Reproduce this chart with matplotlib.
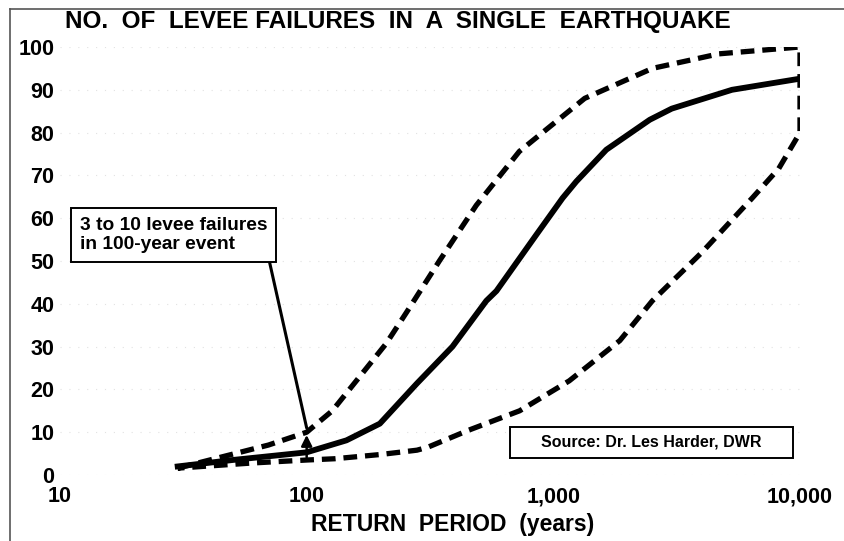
import numpy as np
import matplotlib
matplotlib.use("Agg")
import matplotlib.pyplot as plt
from matplotlib.lines import Line2D
from matplotlib.patches import Rectangle

# return period (years) and number of levee failures
mid_x = [30, 50, 100, 145, 198, 280, 390, 535, 588, 850, 1090, 1240, 1640, 2460, 3020, 5300, 10000]
mid_y = [2.0, 3.5, 5.3, 8.1, 12.0, 21.4, 30.0, 40.7, 43.0, 56.0, 64.7, 68.6, 76.0, 83.0, 85.6, 90.0, 92.6]

upper_x = [30, 70, 100, 127, 175, 210, 254, 345, 487, 728, 1340, 2520, 4690, 10000]
upper_y = [1.6, 7.0, 10.0, 15.0, 25.0, 30.7, 38.0, 50.0, 63.0, 75.6, 88.0, 95.0, 98.4, 100.0]

lower_x = [30, 60, 100, 130, 200, 280, 310, 455, 730, 1160, 1860, 2520, 4000, 6400, 8200, 10000]
lower_y = [1.6, 2.8, 3.5, 3.8, 4.8, 5.8, 6.5, 10.5, 15.0, 22.0, 31.4, 40.7, 52.0, 64.7, 71.6, 80.0]

xticks = [10, 100, 1000, 10000]
xtick_labels = ["10", "100", "1,000", "10,000"]
yticks = list(range(0, 101, 10))

plt.rcParams['font.family'] = ['Liberation Sans', 'DejaVu Sans']
plt.rcParams['font.weight'] = 'bold'

fig = plt.figure(figsize=(8.45, 5.41), dpi=100)
ax = fig.add_axes([60/845, 1-475/541, 740/845, 428/541])

# envelope: upper curve out to 10,000 then back along the lower one
env_x = upper_x + lower_x[::-1]
env_y = upper_y + lower_y[::-1]
ax.plot(env_x, env_y, color='black', lw=3.8, dashes=(2.6, 1.5), solid_capstyle='butt')
ax.plot(mid_x, mid_y, color='black', lw=4.2)

ax.set_xscale('log')
ax.set_xlim(10, 10000)
ax.set_ylim(0, 100)
ax.set_xticks(xticks)
ax.set_xticklabels(xtick_labels)
ax.set_yticks(yticks)
ax.minorticks_off()
ax.tick_params(length=0)
ax.tick_params(axis='y', pad=4, labelsize=15.5)
ax.tick_params(axis='x', pad=8, labelsize=15.5)
for lbl in ax.get_xticklabels() + ax.get_yticklabels():
    lbl.set_fontweight('bold')
ax.yaxis.grid(True, color='#e2e2e2', linestyle=(0, (1, 7)), lw=0.8)
for s in ax.spines.values():
    s.set_visible(False)

ax.set_xlabel('RETURN  PERIOD  (years)', fontsize=16.5, fontweight='bold')
ax.xaxis.label.set_va('center')
ax.xaxis.set_label_coords((453-60)/740, -(525-475)/428)
fig.text(398/845, 1-21.5/541, 'NO.  OF  LEVEE FAILURES  IN  A  SINGLE  EARTHQUAKE',
         ha='center', va='center', fontsize=17.5, fontweight='bold')

# annotation for the 100-year event
ax.annotate('', xy=(100, 10), xytext=(100, 3.5),
            arrowprops=dict(arrowstyle='-|>', color='black', lw=1.8, mutation_scale=16))
ax.annotate('3 to 10 levee failures\nin 100-year event', xy=(100, 11),
            xytext=((80-60)/740, (475-235)/428), textcoords='axes fraction',
            fontsize=13.8, fontweight='bold', ha='left', va='center', linespacing=1.15,
            bbox=dict(boxstyle='square,pad=0.45', fc='white', ec='black', lw=1.4),
            arrowprops=dict(arrowstyle='-', color='black', lw=2.2,
                            relpos=(1.0, 0.0), shrinkA=0, shrinkB=0))

# source box
ax.add_patch(Rectangle(((510-60)/740, (475-458)/428), (793-510)/740, 31/428,
                       transform=ax.transAxes, fc='white', ec='black', lw=1.4, zorder=3))
ax.text((651-60)/740, (475-442)/428, 'Source: Dr. Les Harder, DWR', transform=ax.transAxes,
        fontsize=11.5, fontweight='bold', ha='center', va='center', zorder=4)

# scan border on left and top
fig.add_artist(Line2D([10/845, 10/845], [0, 1-9/541], color='#555555', lw=1.2))
fig.add_artist(Line2D([10/845, 1], [1-9/541, 1-9/541], color='#555555', lw=1.2))

fig.savefig('out.png', dpi=100)
